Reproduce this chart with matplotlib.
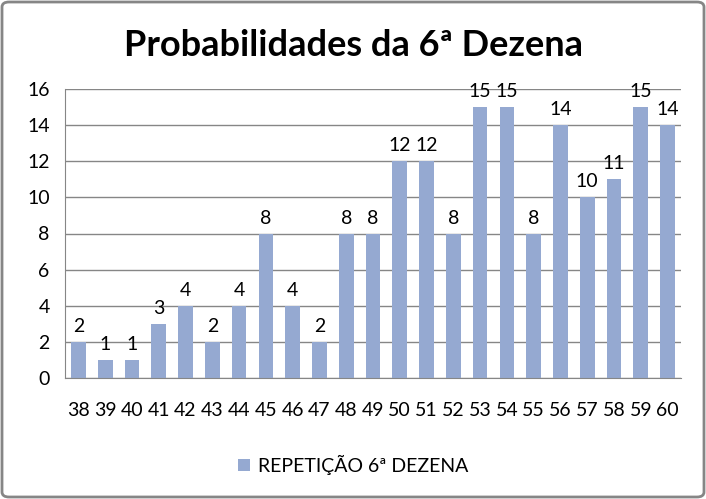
import matplotlib.pyplot as plt
from matplotlib.patches import FancyBboxPatch

plt.rcParams['font.family'] = ['Lato', 'DejaVu Sans']

dezenas = ['38', '39', '40', '41', '42', '43', '44', '45', '46', '47', '48', '49',
           '50', '51', '52', '53', '54', '55', '56', '57', '58', '59', '60']
repeticoes = [2, 1, 1, 3, 4, 2, 4, 8, 4, 2, 8, 8, 12, 12, 8, 15, 15, 8, 14, 10, 11, 15, 14]
serie = 'REPETIÇÃO 6ª DEZENA'
titulo = 'Probabilidades da 6ª Dezena'
cor_barra = '#95A9D1'

fig = plt.figure(figsize=(7.06, 4.99), dpi=100)
ax = fig.add_axes([65 / 706, 1 - 378 / 499, 616 / 706, 289 / 499])

x = range(len(dezenas))
bars = ax.bar(x, repeticoes, width=0.55, color=cor_barra, label=serie, zorder=2)
ax.bar_label(bars, labels=[str(v) for v in repeticoes], padding=5, fontsize=14)

ax.set_xlim(-0.5, len(dezenas) - 0.5)
ax.set_ylim(0, 16)
ax.set_yticks(range(0, 17, 2))
ax.set_xticks(list(x))
ax.set_xticklabels(dezenas)
ax.tick_params(axis='both', length=0, labelsize=14)
ax.tick_params(axis='x', pad=17)
ax.tick_params(axis='y', pad=11)
ax.grid(axis='y', color='#868686', linewidth=1, zorder=0)
for s in ['top', 'right']:
    ax.spines[s].set_visible(False)
ax.spines['left'].set_color('#868686')
ax.spines['bottom'].set_color('#868686')

fig.text(0.5, 1 - 45 / 499, titulo, ha='center', va='center', fontsize=26, fontweight='bold')

fig.legend(loc='center', bbox_to_anchor=(0.5, 1 - 465 / 499), frameon=False,
           fontsize=14, handlelength=0.6, handleheight=0.6, handletextpad=0.4)

borda = FancyBboxPatch((2 / 706, 2 / 499), 702 / 706, 495 / 499,
                       boxstyle='round,pad=0,rounding_size=0.01',
                       transform=fig.transFigure, fill=False,
                       edgecolor='#868686', linewidth=2)
fig.patches.append(borda)

fig.savefig('out.png', dpi=100)
